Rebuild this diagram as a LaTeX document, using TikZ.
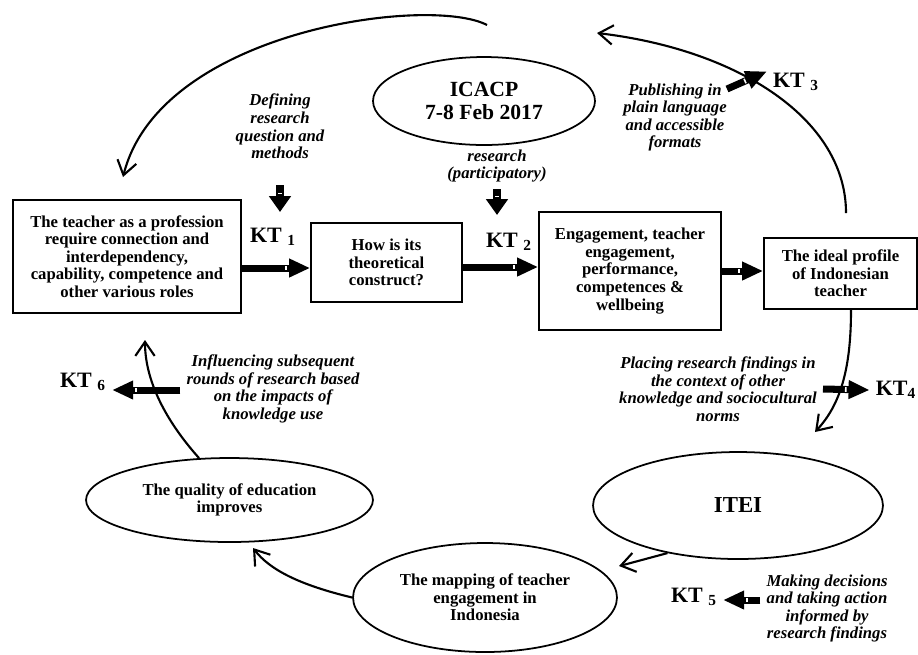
\documentclass[tikz,border=0pt]{standalone}
\usepackage{fontspec}
\setmainfont{Liberation Serif}
\usepackage{tikz}
\usetikzlibrary{arrows.meta,shapes.geometric,decorations.markings}

\begin{document}
\begin{tikzpicture}[x=0.02cm,y=-0.02cm,
    txt/.style={font=\fontsize{9.5}{10}\selectfont\bfseries,align=center},
    note/.style={font=\fontsize{9.5}{10}\selectfont\bfseries\itshape,align=center},
    box/.style={draw,line width=1pt,txt,inner sep=2pt},
    oval/.style={draw,ellipse,line width=1pt,txt,inner sep=0pt},
    kt/.style={font=\fontsize{12.5}{14}\selectfont\bfseries},
    cyc/.style={line width=1.2pt,-{Straight Barb[length=8pt,width=11pt]}},
    notch/.style={postaction={decorate,decoration={markings,
        mark=at position -#1 with {\fill[white] (-0.45pt,-1.4pt) rectangle (0.45pt,1.4pt);}}}},
    ktarrow/.style={line width=4pt,-{Triangle[length=12pt,width=10pt]},notch=13.6pt},
    kdown/.style={line width=4pt,-{Triangle[length=9pt,width=12pt]},notch=10.6pt}]
    \useasboundingbox (0,0) rectangle (918,654);

    \node[box,minimum width=4.56cm,minimum height=2.26cm] (prof) at (127,256.5) {The teacher as a profession\\require connection and\\interdependency,\\capability, competence and\\other various roles};
    \node[box,minimum width=3.02cm,minimum height=1.58cm] (theory) at (386.5,262.5) {How is its\\theoretical\\construct?};
    \node[box,minimum width=3.64cm,minimum height=2.36cm] (engage) at (630,271) {Engagement, teacher\\engagement,\\performance,\\competences \&\\wellbeing};
    \node[box,minimum width=3.06cm,minimum height=1.42cm] (ideal) at (840.5,273.5) {The ideal profile\\of Indonesian\\teacher};

    \node[oval,minimum width=4.44cm,minimum height=1.76cm,font=\fontsize{12.3}{13}\selectfont\bfseries] (icacp) at (484,101) {ICACP\\7-8 Feb 2017};
    \node[oval,minimum width=5.8cm,minimum height=2.14cm,font=\fontsize{13}{14}\selectfont\bfseries] (itei) at (738,505.5) {ITEI};
    \node[oval,minimum width=5.28cm,minimum height=2.18cm] (mapping) at (485,597.5) {The mapping of teacher\\engagement in\\Indonesia};
    \node[oval,minimum width=5.74cm,minimum height=1.68cm] (quality) at (229.5,500) {The quality of education\\improves};

    \node[note] (define) at (280,126.5) {Defining\\research\\question and\\methods};
    \node[note] (partic) at (497,166) {research\\(participatory)};
    \node[note] (publish) at (675,117.5) {Publishing in\\plain language\\and accessible\\formats};
    \node[note] (placing) at (718,389) {Placing research findings in\\the context of other\\knowledge and sociocultural\\norms};
    \node[note] (influence) at (273,389) {Influencing subsequent\\rounds of research based\\on the impacts of\\knowledge use};
    \node[note] (decide) at (827,608.5) {Making decisions\\and taking action\\informed by\\research findings};

    \node[kt] (kt1) at (273,237) {KT \textsubscript{1}};
    \node[kt] (kt2) at (509,242) {KT \textsubscript{2}};
    \node[kt] (kt3) at (796,82) {KT \textsubscript{3}};
    \node[kt] (kt4) at (896,390) {KT\textsubscript{4}};
    \node[kt] (kt5) at (694,597) {KT \textsubscript{5}};
    \node[kt] (kt6) at (83,382) {KT \textsubscript{6}};

    \coordinate (rise) at (846,213);
    \coordinate (peak) at (597,33);
    \coordinate (crest) at (487,25);
    \coordinate (land) at (123,177);
    \coordinate (sink) at (815,432);
    \coordinate (entry) at (619,566);
    \coordinate (qin) at (253,548);
    \coordinate (qout) at (145,340);
    \coordinate (pubtail) at (727,89);

    \draw[cyc] (rise) .. controls (846,120) and (740,50) .. (peak);
    \draw[cyc] (crest) .. controls (430,-5) and (160,30) .. (land);
    \draw[cyc] (ideal.south -| 851,0) .. controls (851,370) and (840,405) .. (sink);
    \draw[cyc] (itei.214) .. controls (645,560) .. (entry);
    \draw[cyc] (mapping.west) .. controls (300,585) and (270,570) .. (qin);
    \draw[cyc] (quality.126) .. controls (165,420) and (145,380) .. (qout);

    \draw[ktarrow] (prof.east |- 0,268) -- (theory.west |- 0,268);
    \draw[ktarrow] (theory.east |- 0,267) -- (engage.west |- 0,267);
    \draw[ktarrow] (engage.east |- 0,271) -- (ideal.west |- 0,271);
    \draw[ktarrow] (pubtail) -- (kt3.160);
    \draw[ktarrow] (placing.east) -- (kt4.west);
    \draw[ktarrow] (decide.west |- 0,600) -- (kt5.east |- 0,600);
    \draw[ktarrow] (influence.west |- 0,390) -- (kt6.east |- 0,390);
    \draw[kdown] (define |- 0,185) -- (define |- 0,212);
    \draw[kdown] (partic |- 0,189) -- (partic |- 0,215);
\end{tikzpicture}
\end{document}
